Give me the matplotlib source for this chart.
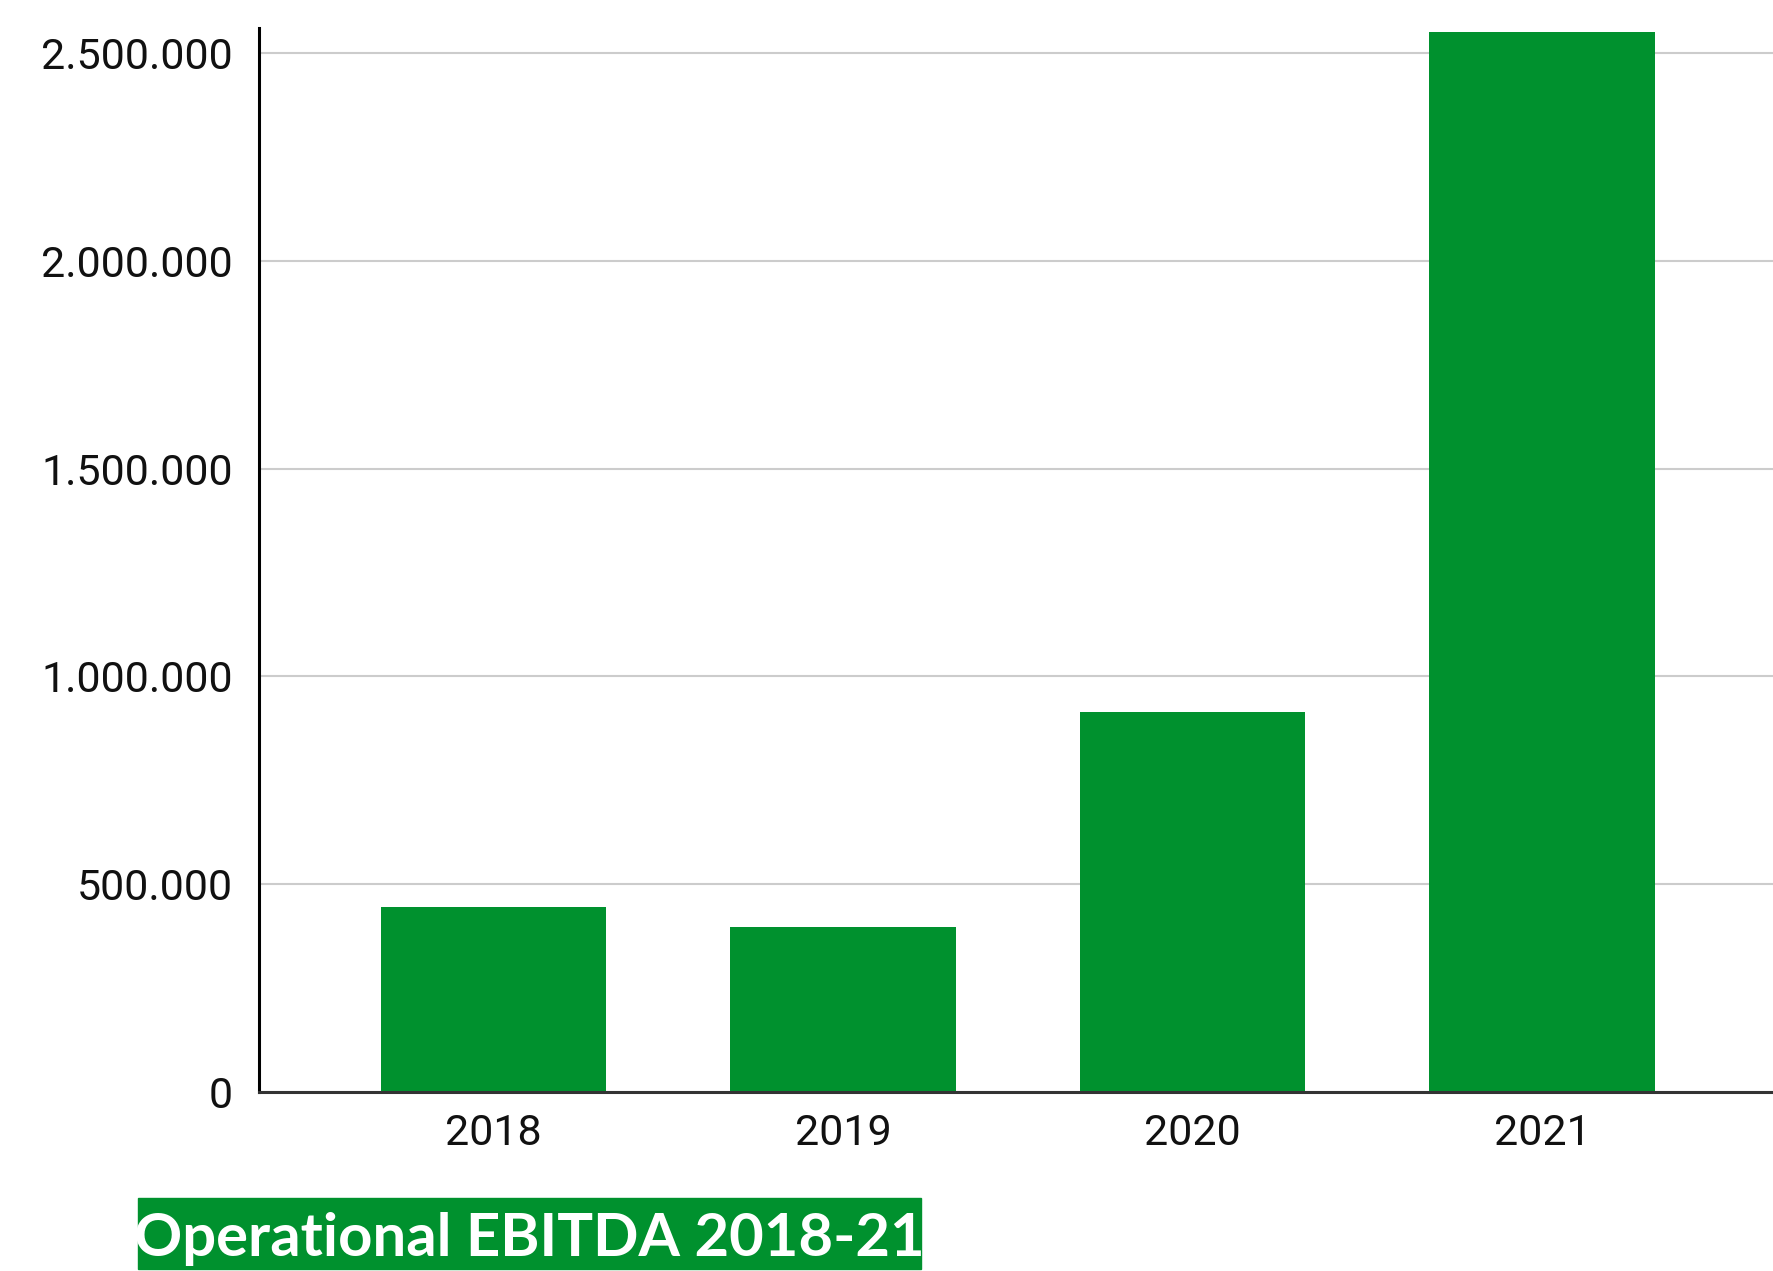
import matplotlib
matplotlib.use("Agg")
import matplotlib.pyplot as plt
import matplotlib.patches as patches
from matplotlib.ticker import FuncFormatter

# --- data ---
jaar = ["2018", "2019", "2020", "2021"]
ebitda = [445000, 396000, 915000, 2550000]
y_ticks = [0, 500000, 1000000, 1500000, 2000000, 2500000]
titel = "Operational EBITDA 2018-21"

GROEN = "#00912e"

fig = plt.figure(figsize=(17.73, 12.71), dpi=100)
ax = fig.add_axes([0.1461, 0.1408, 0.8539, 0.837])

x = range(len(jaar))
ax.bar(x, ebitda, width=0.644, color=GROEN, zorder=3)

ax.set_xlim(-0.671, 3.661)
ax.set_ylim(0, 2560000)
ax.set_xticks(list(x))
ax.set_xticklabels(jaar)
ax.set_yticks(y_ticks)
ax.yaxis.set_major_formatter(FuncFormatter(lambda v, p: f"{int(v):,}".replace(",", ".")))

for lbl in ax.get_xticklabels() + ax.get_yticklabels():
    lbl.set_fontfamily("Roboto")
    lbl.set_fontsize(31)
    lbl.set_color("#111111")
ax.tick_params(axis="y", length=0, pad=19)
ax.tick_params(axis="x", length=0, pad=15)

# rasterlijnen en assen
ax.grid(axis="y", color="#cccccc", linewidth=1.5, zorder=0)
ax.spines["top"].set_visible(False)
ax.spines["right"].set_visible(False)
ax.spines["left"].set_color("black")
ax.spines["left"].set_linewidth(2.2)
ax.spines["bottom"].set_color("#333333")
ax.spines["bottom"].set_linewidth(2.2)
ax.spines["bottom"].set_zorder(4)

# titel in groen vak onderaan
W, H = 1773, 1271
box_x0, box_x1 = 138, 921
box_y0, box_y1 = 1198, 1269
fig.patches.append(patches.Rectangle((box_x0 / W, 1 - box_y1 / H),
                                     (box_x1 - box_x0) / W, (box_y1 - box_y0) / H,
                                     transform=fig.transFigure, color=GROEN, zorder=1))
fig.text((box_x0 + box_x1) / 2 / W, 1 - ((box_y0 + box_y1) / 2 + 5) / H, titel,
         ha="center", va="center", color="white", fontsize=43, fontweight="bold",
         family="Lato", zorder=2)

fig.savefig("out.png", dpi=100)
